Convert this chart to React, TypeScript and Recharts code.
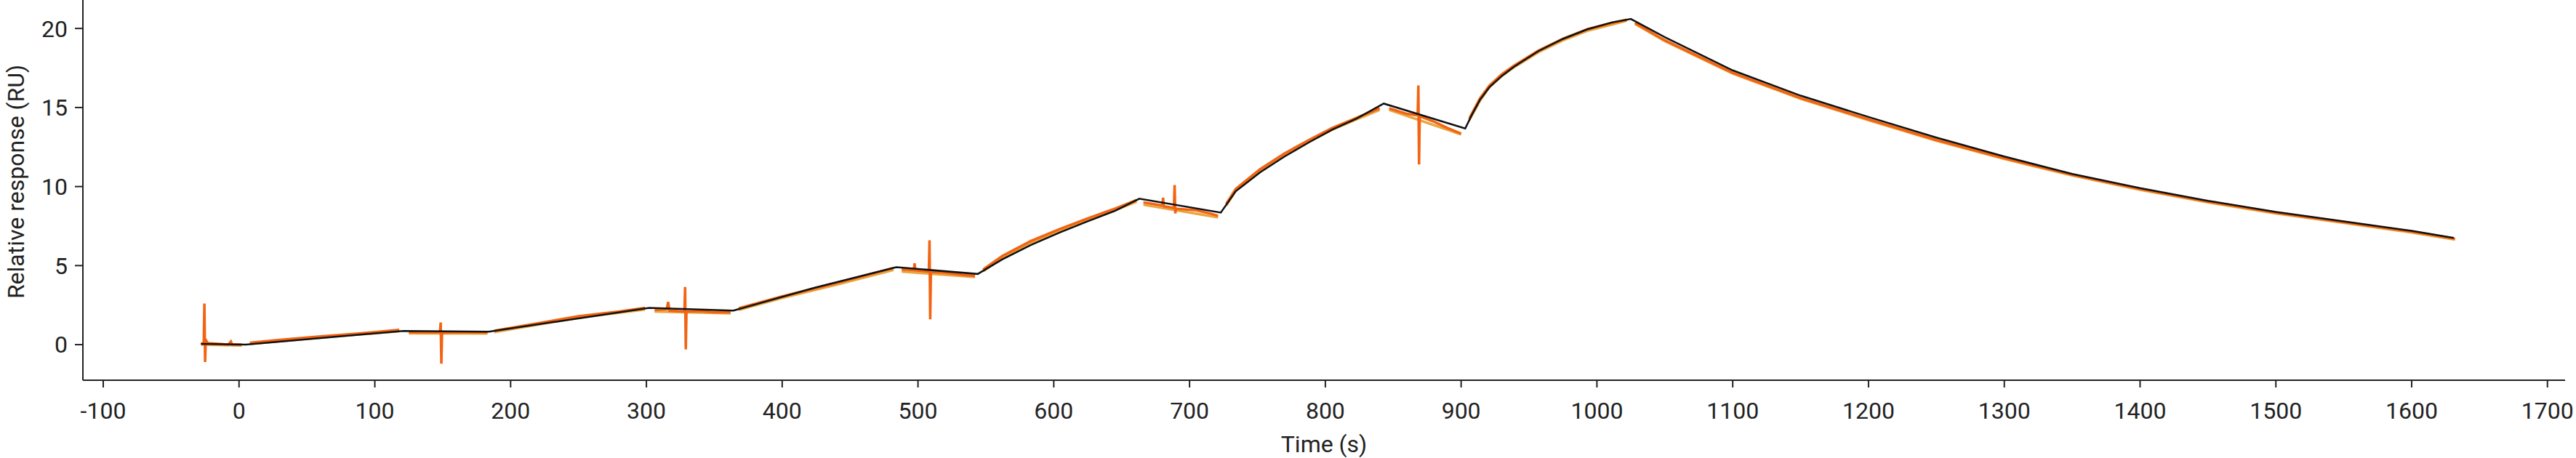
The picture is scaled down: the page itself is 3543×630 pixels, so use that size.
import { LineChart, Line, XAxis, YAxis } from "recharts";

// fitted model (black)
const fitTime = [
  -28, 5, 121, 184, 302, 364, 424, 484, 544, 562, 583, 604, 624, 645, 663, 723, 734, 752, 770,
  788, 805, 823, 843, 903, 908, 914, 921, 930, 939, 957, 975, 993, 1011, 1025, 1050, 1100, 1150,
  1200, 1250, 1300, 1350, 1400, 1450, 1500, 1550, 1600, 1631,
];
const fitRU = [
  0.05, 0.0, 0.87, 0.82, 2.33, 2.15, 3.6, 4.9, 4.47, 5.39, 6.3, 7.08, 7.77, 8.46, 9.23, 8.35, 9.7,
  10.9, 11.9, 12.8, 13.6, 14.3, 15.25, 13.67, 14.55, 15.5, 16.3, 17.0, 17.58, 18.57, 19.34, 19.95,
  20.38, 20.6, 19.45, 17.35, 15.75, 14.4, 13.1, 11.9, 10.8, 9.9, 9.1, 8.4, 7.8, 7.2, 6.75,
];

// measured response (orange), nulls are the gaps between phases
const respTime = [
  -28, -26, -25.5, -25, -24.5, -23, -15, -8, -6, -5, 2, 4, 8, 30, 60, 90, 118, 121, 125, 140, 148,
  148.5, 149, 149.5, 160, 183, 185, 188, 220, 250, 280, 299, 302, 306, 315, 316, 317, 328, 328.5,
  329, 329.5, 340, 350, 362, 364, 368, 400, 440, 482, 485, 488, 497, 497.5, 498, 508, 508.5, 509,
  509.5, 520, 535, 542, 544, 548, 562, 583, 604, 624, 645, 661, 663, 666, 680, 680.5, 681, 688.5,
  689, 689.5, 690, 705, 715, 721, 723, 727, 734, 752, 770, 788, 805, 823, 840, 843, 847, 860, 868,
  868.5, 869, 869.5, 880, 890, 900, 903, 906, 914, 921, 930, 939, 957, 975, 993, 1011, 1022, 1025,
  1028, 1050, 1100, 1150, 1200, 1250, 1300, 1350, 1400, 1450, 1500, 1550, 1600, 1632,
];
const respRU = [
  0.05, 0.1, 2.6, -1.1, 0.3, 0.1, 0.05, 0.0, 0.2, 0.0, 0.0, null, 0.12, 0.3, 0.52, 0.72, 0.93, null,
  0.8, 0.78, 0.78, 1.4, -1.2, 0.75, 0.8, 0.78, null, 0.88, 1.35, 1.8, 2.1, 2.33, null, 2.2, 2.25,
  2.7, 2.15, 2.1, 3.65, -0.3, 2.1, 2.12, 2.05, 2.05, null, 2.3, 3.05, 3.9, 4.85, null, 4.75, 4.72,
  5.15, 4.7, 4.62, 6.6, 1.6, 4.6, 4.55, 4.4, 4.35, null, 4.75, 5.6, 6.55, 7.3, 7.95, 8.6, 9.15,
  null, 9.0, 8.8, 9.3, 8.75, 8.65, 10.1, 8.3, 8.6, 8.5, 8.3, 8.15, null, 8.9, 9.85, 11.1, 12.1,
  12.95, 13.7, 14.35, 14.95, null, 14.95, 14.6, 14.5, 16.4, 11.4, 14.45, 14.1, 13.7, 13.35, null,
  14.3, 15.6, 16.4, 17.1, 17.65, 18.6, 19.35, 19.95, 20.35, 20.55, null, 20.35, 19.25, 17.2, 15.6,
  14.25, 12.95, 11.8, 10.75, 9.85, 9.05, 8.35, 7.75, 7.15, 6.7,
];

// second replicate (light orange)
const rep2Time = [
  -28, 2, 4, 8, 60, 118, 121, 125, 183, 185, 188, 250, 299, 302, 306, 362, 364, 368, 400, 440, 482,
  485, 488, 542, 544, 548, 562, 583, 604, 624, 645, 661, 663, 666, 721, 723, 727, 734, 752, 770, 788,
  805, 823, 840, 843, 847, 900, 903, 906, 914, 921, 930, 939, 957, 975, 993, 1011, 1022, 1025, 1028,
  1050, 1100, 1150, 1200, 1250, 1300, 1350, 1400, 1450, 1500, 1550, 1600, 1632,
];
const rep2RU = [
  0.0, -0.05, null, 0.05, 0.45, 0.85, null, 0.72, 0.7, null, 0.8, 1.7, 2.22, null, 2.1, 1.98, null,
  2.2, 2.95, 3.8, 4.72, null, 4.62, 4.28, null, 4.65, 5.5, 6.45, 7.2, 7.85, 8.5, 9.05, null, 8.85,
  8.05, null, 8.8, 9.75, 11.0, 12.0, 12.85, 13.6, 14.25, 14.85, null, 14.85, 13.3, null, 14.2, 15.45,
  16.3, 17.0, 17.55, 18.5, 19.25, 19.85, 20.25, 20.5, null, 20.3, 19.2, 17.15, 15.55, 14.2, 12.9,
  11.75, 10.7, 9.8, 9.0, 8.3, 7.7, 7.1, 6.65,
];

const xTicks = [-100, 0, 100, 200, 300, 400, 500, 600, 700, 800, 900, 1000, 1100, 1200, 1300, 1400, 1500, 1600, 1700];
const yTicks = [0, 5, 10, 15, 20];

const fitData = fitTime.map((t, i) => ({ t, v: fitRU[i] }));
const respData = respTime.map((t, i) => ({ t, v: respRU[i] }));
const rep2Data = rep2Time.map((t, i) => ({ t, v: rep2RU[i] }));

const font = "Roboto, 'Noto Sans', sans-serif";
const ink = "#222222";

export default function App() {
  return (
    <div style={{ position: "absolute", left: 0, top: 0, background: "#fff" }}>
      <LineChart width={3543} height={630} margin={{ top: 0, right: 15, bottom: 0, left: 0 }}>
        <XAxis
          type="number"
          dataKey="t"
          domain={[-115, 1713]}
          ticks={xTicks}
          allowDataOverflow
          height={107}
          tickSize={10}
          tickMargin={20}
          stroke={ink}
          strokeWidth={2}
          tick={{ fill: ink, fontSize: 32, fontFamily: font }}
          label={{ value: "Time (s)", position: "insideBottom", offset: 8, fill: ink, fontSize: 32, fontFamily: font }}
        />
        <YAxis
          type="number"
          domain={[-2.25, 21.8]}
          ticks={yTicks}
          allowDataOverflow
          width={114}
          tickSize={11}
          tickMargin={10}
          stroke={ink}
          strokeWidth={2}
          tick={{ fill: ink, fontSize: 32, fontFamily: font }}
        />
        <Line
          data={rep2Data}
          dataKey="v"
          stroke="#e9a53f"
          strokeWidth={3.5}
          dot={false}
          connectNulls={false}
          isAnimationActive={false}
        />
        <Line
          data={respData}
          dataKey="v"
          stroke="#f26412"
          strokeWidth={3.5}
          dot={false}
          connectNulls={false}
          isAnimationActive={false}
        />
        <Line
          data={fitData}
          dataKey="v"
          stroke="#111111"
          strokeWidth={2.5}
          dot={false}
          isAnimationActive={false}
        />
        <text
          x={22}
          y={250}
          transform="rotate(-90 22 250)"
          textAnchor="middle"
          dominantBaseline="central"
          fill={ink}
          fontSize={32}
          fontFamily={font}
        >
          Relative response (RU)
        </text>
      </LineChart>
    </div>
  );
}
